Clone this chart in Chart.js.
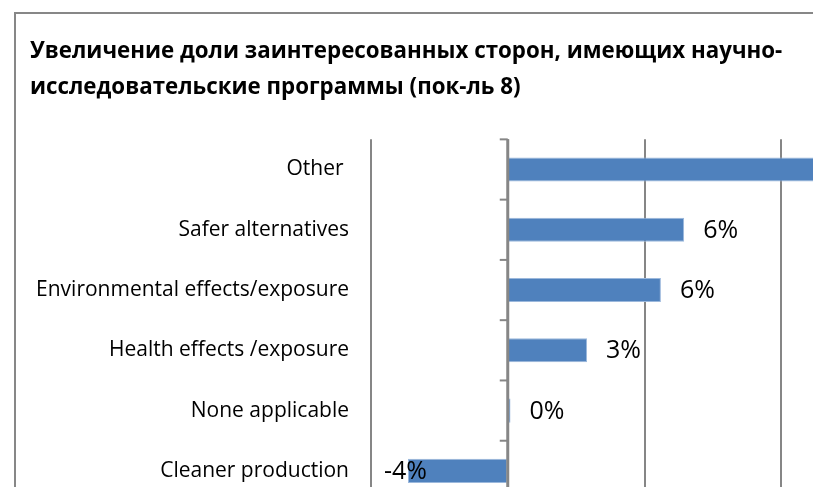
<!DOCTYPE html>
<html>
<head>
<meta charset="utf-8">
<script src="https://cdn.jsdelivr.net/npm/chart.js@4"></script>
<style>
  body { margin: 0; overflow: hidden; background: #fff; }
  .frame {
    position: absolute; left: 14px; top: 12px;
    width: 960px; height: 570px;
    border-left: 2px solid #878787; border-top: 2px solid #878787;
  }
</style>
</head>
<body>
<div class="frame"><canvas id="chart" width="960" height="570"></canvas></div>
<script>
const titleLines = ['Увеличение доли заинтересованных сторон, имеющих научно-', 'исследовательские программы (пок-ль 8)'];
const categories = ['Other ', 'Safer alternatives', 'Environmental effects/exposure', 'Health effects /exposure', 'None applicable', 'Cleaner production'];
const values = [13, 6.45, 5.6, 2.9, 0.1, -3.65];
const xTicks = [-5, 0, 5, 10, 15];

// value labels at the end of each bar
const barLabels = {
    id: 'barLabels',
    afterDatasetsDraw(chart) {
        const ctx = chart.ctx;
        const meta = chart.getDatasetMeta(0);
        ctx.save();
        ctx.font = '25px "Open Sans"';
        ctx.fillStyle = '#000';
        ctx.textBaseline = 'middle';
        meta.data.forEach((bar, i) => {
            const v = values[i];
            ctx.textAlign = v < 0 ? 'right' : 'left';
            ctx.fillText(Math.round(v) + '%', bar.x + 19, bar.y + 1);
        });
        ctx.restore();
    }
};

// vertical category axis sitting on the zero value, with tick marks
const zeroAxis = {
    id: 'zeroAxis',
    afterDatasetsDraw(chart) {
        const ctx = chart.ctx;
        const x = chart.scales.x;
        const y = chart.scales.y;
        const x0 = x.getPixelForValue(0);
        const step = (y.bottom - y.top) / categories.length;
        ctx.save();
        ctx.strokeStyle = '#868686';
        ctx.lineWidth = 3;
        ctx.beginPath();
        ctx.moveTo(x0, y.top);
        ctx.lineTo(x0, y.bottom);
        ctx.stroke();
        ctx.lineWidth = 2;
        for (let i = 0; i <= categories.length; i++) {
            const yy = y.top + i * step;
            ctx.beginPath();
            ctx.moveTo(x0 - 8, yy);
            ctx.lineTo(x0, yy);
            ctx.stroke();
        }
        ctx.restore();
    }
};

const ctx = document.getElementById('chart').getContext('2d');
const chart = new Chart(ctx, {
    type: 'bar',
    data: {
        labels: categories,
        datasets: [{
            data: values,
            backgroundColor: '#4f81bd',
            borderColor: '#9bb8dc',
            borderWidth: 1,
            categoryPercentage: 1,
            barPercentage: 0.4
        }]
    },
    options: {
        indexAxis: 'y',
        responsive: false,
        animation: false,
        layout: { padding: { left: 14, right: 58, top: 0, bottom: 43 } },
        scales: {
            x: {
                min: xTicks[0],
                max: xTicks[xTicks.length - 1],
                afterBuildTicks: (scale) => { scale.ticks = xTicks.map(v => ({ value: v })); },
                afterFit: (scale) => { scale.height = 40; },
                ticks: {
                    callback: (v) => v + '%',
                    color: '#000',
                    font: { family: 'Open Sans', size: 20 }
                },
                grid: { color: '#868686', lineWidth: 2, drawTicks: false },
                border: { display: false }
            },
            y: {
                afterFit: (scale) => { scale.width = 341; },
                ticks: {
                    color: '#000',
                    padding: 22,
                    font: { family: 'Open Sans', size: 21 }
                },
                grid: { display: false, drawTicks: false },
                border: { display: false }
            }
        },
        plugins: {
            legend: { display: false },
            tooltip: { enabled: false },
            title: {
                display: true,
                text: titleLines,
                align: 'start',
                color: '#000',
                font: { family: 'Open Sans', size: 22.3, weight: 'bold', lineHeight: 1.6 },
                padding: { top: 20, bottom: 34 }
            }
        }
    },
    plugins: [barLabels, zeroAxis]
});
</script>
</body>
</html>
